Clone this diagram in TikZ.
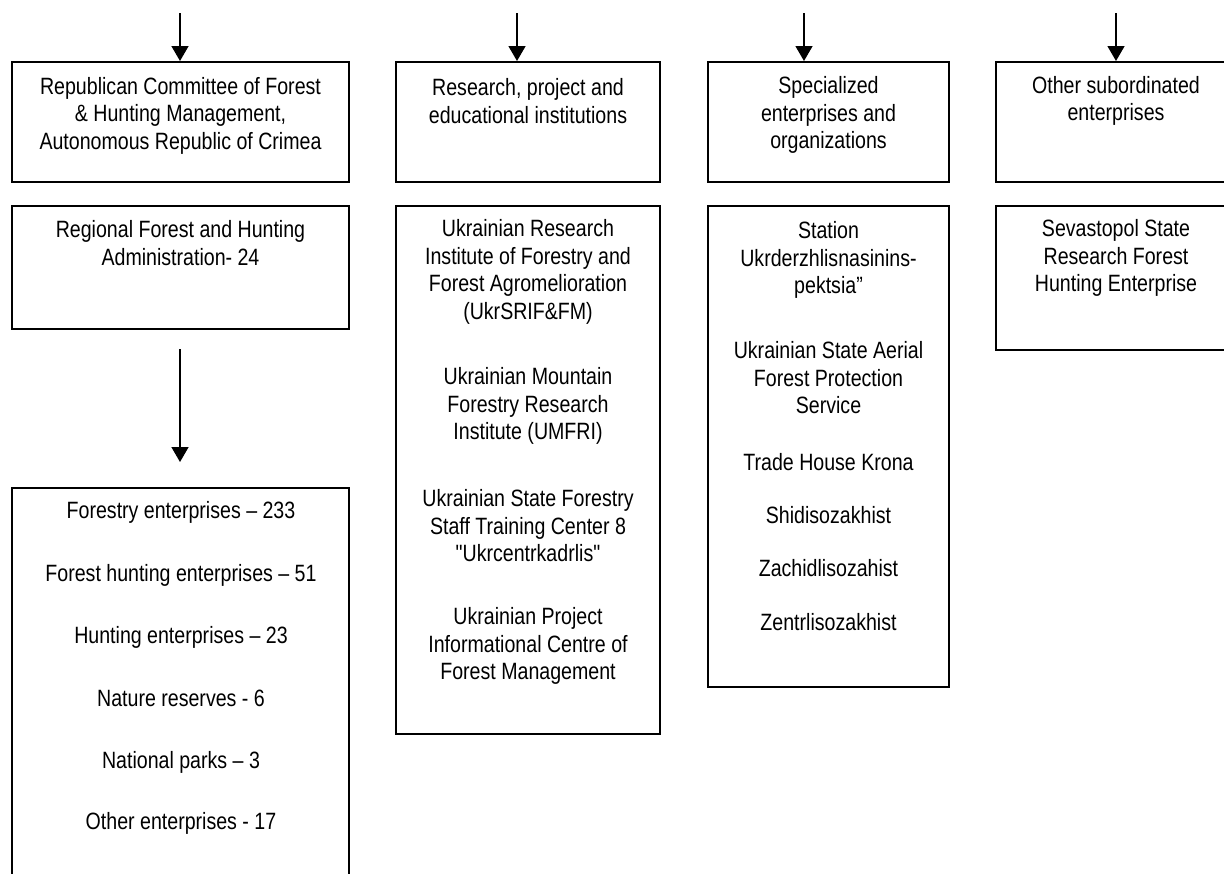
\documentclass[tikz,border=0pt]{standalone}
\usepackage{fontspec}
\newfontfamily\chartfont[FakeStretch=0.83]{Liberation Sans}
\usetikzlibrary{arrows.meta}

\begin{document}
\begin{tikzpicture}[x=0.5pt, y=-0.5pt, font=\chartfont\fontsize{11.8}{13.75}\selectfont,
  box/.style={draw, line width=1pt, inner sep=0pt},
  txt/.style={align=center, inner sep=0pt},
  arr/.style={-{Triangle[width=8.5pt,length=7.5pt]}, line width=0.75pt}]
\useasboundingbox (0,0) rectangle (1224,873); \clip (0,0) rectangle (1224,873);
% upper row of boxes
\node[box, minimum width=168.5pt, minimum height=60pt] (rc) at (180.5,122) {};
\node[box, minimum width=132pt, minimum height=60pt] (rie) at (528,122) {};
\node[box, minimum width=120.5pt, minimum height=60pt] (spe) at (828.5,122) {};
\node[box, minimum width=120pt, minimum height=60pt] (oth) at (1116,122) {};
\node[txt] at (180.5,115.5) {Republican Committee of Forest\\ \& Hunting Management,\\ Autonomous Republic of Crimea};
\node[txt] at (528,101) {Research, project and\\ educational institutions};
\node[txt] at (828.5,115) {Specialized\\ enterprises and\\ organizations};
\node[txt] at (1116,101) {Other subordinated\\ enterprises};
% incoming arrows
\coordinate (c1) at (180,13); \coordinate (c2) at (517,13); \coordinate (c3) at (804,13); \coordinate (c4) at (1116,13);
\draw[arr] (c1) -- (c1 |- rc.north); \draw[arr] (c2) -- (c2 |- rie.north); \draw[arr] (c3) -- (c3 |- spe.north); \draw[arr] (c4) -- (c4 |- oth.north);
% lower row of boxes
\node[box, minimum width=168.5pt, minimum height=61.5pt] (reg) at (180.5,267.5) {};
\node[box, minimum width=132pt, minimum height=264pt] (inst) at (528,470) {};
\node[box, minimum width=120.5pt, minimum height=240.5pt] (org) at (828.5,446.5) {};
\node[box, minimum width=120pt, minimum height=72pt] (sev) at (1116,278) {};
\node[box, minimum width=168.5pt, minimum height=206pt] (fe) at (180.5,694) {};
\draw[arr, shorten <=9.5pt, shorten >=12.5pt] (reg.south -| c1) -- (fe.north -| c1);
% texts of the lower boxes
\node[txt] at (180.5,243) {Regional Forest and Hunting\\ Administration- 24};
\node[txt] at (181,512) {Forestry enterprises – 233}; \node[txt] at (181,575) {Forest hunting enterprises – 51};
\node[txt] at (181,637) {Hunting enterprises – 23}; \node[txt] at (181,698) {Nature reserves - 6};
\node[txt] at (181,762) {National parks – 3}; \node[txt] at (181,823) {Other enterprises - 17};
\node[txt] at (528,272) {Ukrainian Research\\ Institute of Forestry and\\ Forest Agromelioration\\ (UkrSRIF\&FM)};
\node[txt] at (528,406) {Ukrainian Mountain\\ Forestry Research\\ Institute (UMFRI)};
\node[txt] at (528,526) {Ukrainian State Forestry\\ Staff Training Center 8\\ "Ukrcentrkadrlis"};
\node[txt] at (528,646) {Ukrainian Project\\ Informational Centre of\\ Forest Management};
\node[txt] at (828.5,260) {Station\\ Ukrderzhlisnasinins-\\ pektsia”};
\node[txt] at (828.5,378) {Ukrainian State Aerial\\ Forest Protection\\ Service};
\node[txt] at (828.5,462) {Trade House Krona}; \node[txt] at (828.5,515) {Shidisozakhist};
\node[txt] at (828.5,568) {Zachidlisozahist}; \node[txt] at (828.5,622) {Zentrlisozakhist};
\node[txt] at (1116,258) {Sevastopol State\\ Research Forest\\ Hunting Enterprise};
\end{tikzpicture}
\end{document}
